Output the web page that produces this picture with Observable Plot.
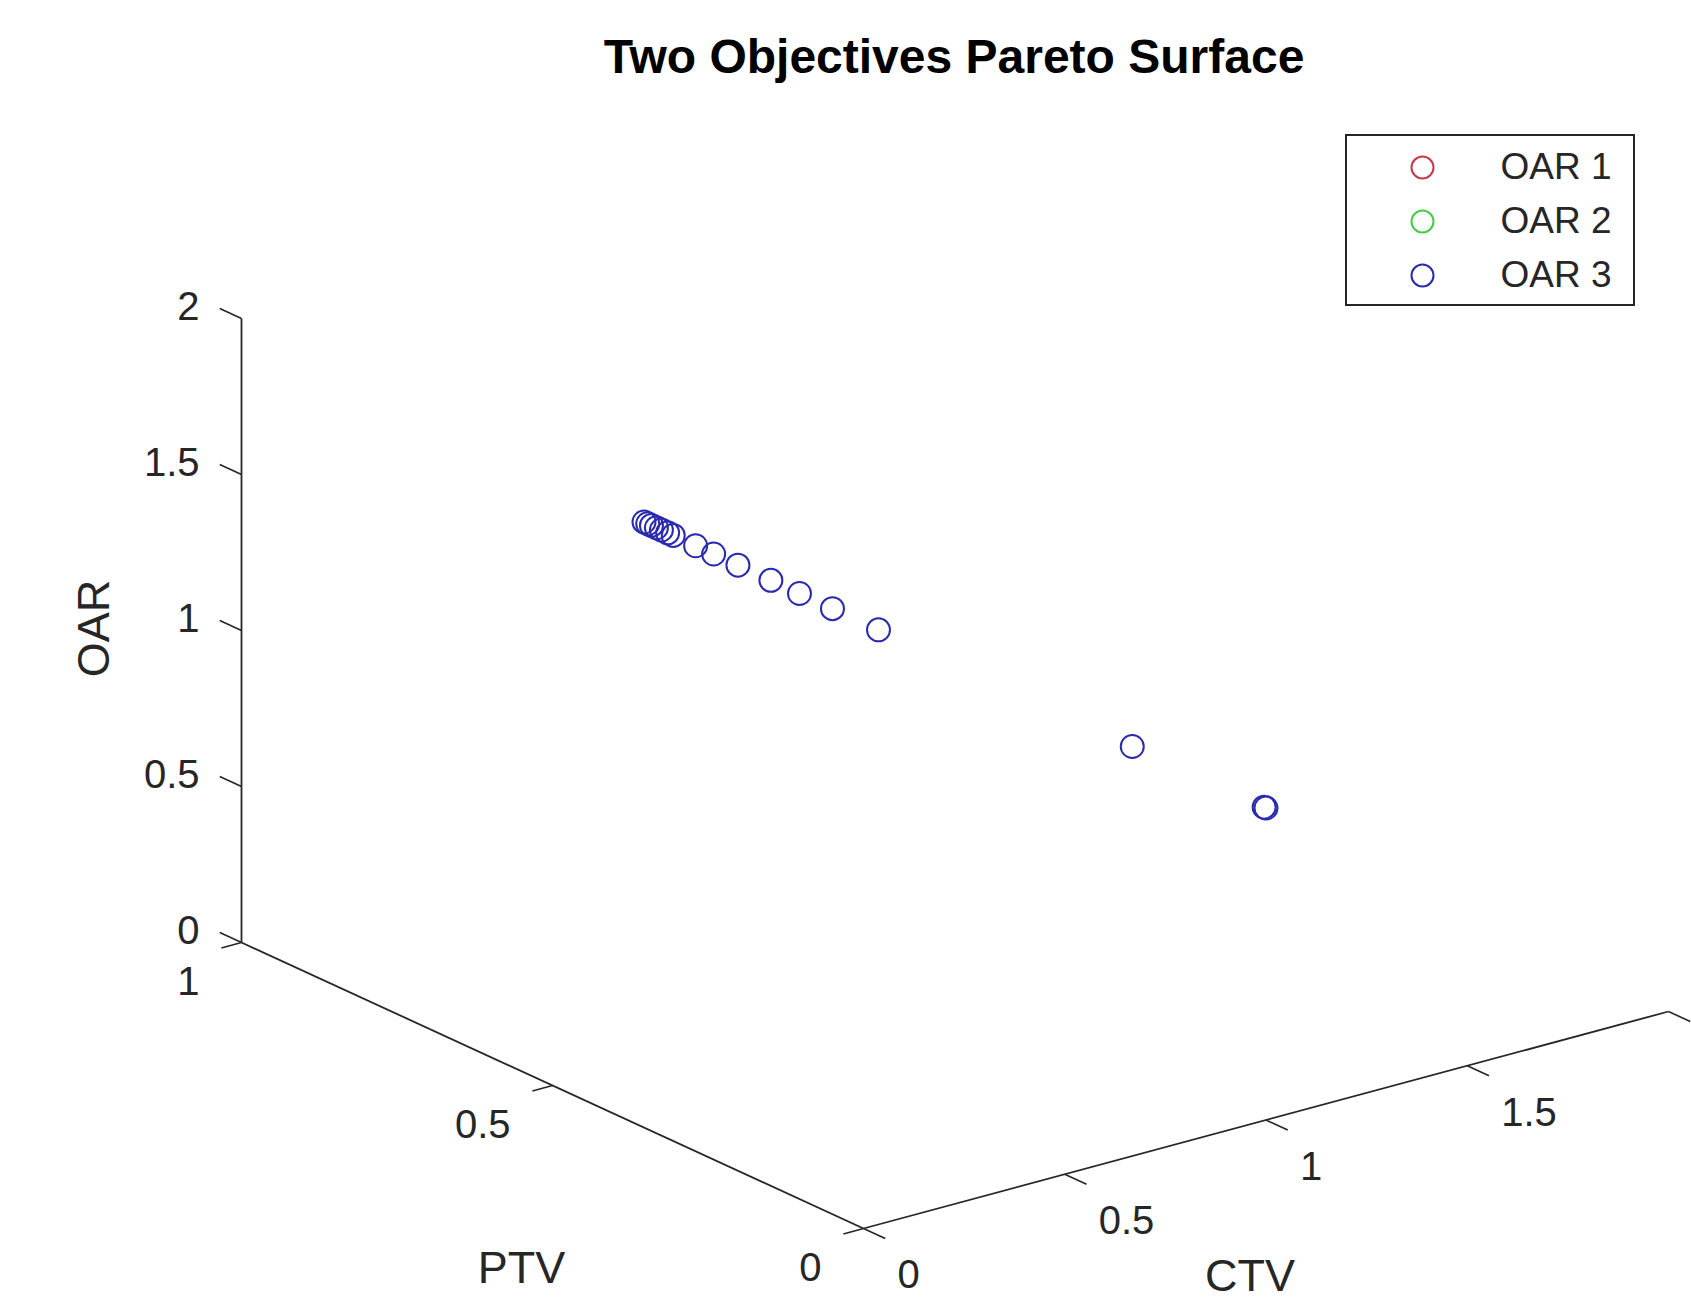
<!DOCTYPE html>
<html><head><meta charset="utf-8">
<script src="https://cdn.jsdelivr.net/npm/d3@7"></script>
<script src="https://cdn.jsdelivr.net/npm/@observablehq/plot@0.6"></script>
<style>
body{margin:0;background:#fff;width:1691px;height:1300px;overflow:hidden;font-family:"Liberation Sans",Arial,sans-serif}
#title{height:100px;position:relative}
#title span{position:absolute;left:954px;top:56px;transform:translate(-50%,-50%);font-weight:bold;font-size:48px;color:#000;white-space:nowrap}
#chart svg{display:block}
</style></head><body>
<div id="title"><span>Two Objectives Pareto Surface</span></div>
<div id="chart"></div>
<script>
// ---------- data ----------
const seriesNames = ["OAR 1", "OAR 2", "OAR 3"];
const seriesColors = ["#c43a4a", "#44cc44", "#2a2ab0"];
// OAR 1 and OAR 2 show no visible points in the figure
const oar1PTV = [], oar1CTV = [], oar1OAR = [];
const oar2PTV = [], oar2CTV = [], oar2OAR = [];
// OAR 3 points (PTV, CTV, OAR)
const oar3PTV = [0.000, 0.003, 0.215, 0.623, 0.697, 0.750, 0.796, 0.849, 0.888, 0.917, 0.953, 0.962, 0.972, 0.980, 0.988, 0.994, 1.000];
const oar3CTV = [1.00, 1.00, 1.00, 1.00, 1.00, 1.00, 1.00, 1.00, 1.00, 1.00, 1.00, 1.00, 1.00, 1.00, 1.00, 1.00, 1.00];
const oar3OAR = [1.00, 1.00, 1.00, 1.00, 1.00, 1.00, 1.00, 1.00, 1.00, 1.00, 1.00, 1.00, 1.00, 1.00, 1.00, 1.00, 1.00];
const ptvTicks = [0, 0.5, 1];
const ctvTicks = [0, 0.5, 1, 1.5, 2];
const oarTicks = [0, 0.5, 1, 1.5, 2];
const axisNames = ["PTV", "CTV", "OAR"];

// ---------- view (3D orthographic projection onto page pixels) ----------
const TOP = 100, W = 1691, H = 1200;
const ORIGIN = [863, 1228];
const VP = [-622, -286];   // one unit of PTV
const VC = [402.5, -108.5]; // one unit of CTV
const VO = [0, -312];      // one unit of OAR
const proj = (p, c, o) => [ORIGIN[0] + p * VP[0] + c * VC[0] + o * VO[0],
                           ORIGIN[1] + p * VP[1] + c * VC[1] + o * VO[1]];
const INK = "#262626";

const series = [
  {name: seriesNames[0], P: oar1PTV, C: oar1CTV, O: oar1OAR},
  {name: seriesNames[1], P: oar2PTV, C: oar2CTV, O: oar2OAR},
  {name: seriesNames[2], P: oar3PTV, C: oar3CTV, O: oar3OAR}
];
const points = series.flatMap((s, si) => s.P.map((p, i) => {
  const [x, y] = proj(p, s.C[i], s.O[i]);
  return {x, y, series: s.name, color: seriesColors[si]};
}));

const axes = [
  {a: proj(0, 0, 0), b: proj(1, 0, 0)},
  {a: proj(0, 0, 0), b: proj(0, 2, 0)},
  {a: proj(1, 0, 0), b: proj(1, 0, 2)}
];
const tickLen = 0.035;
const ticks = [
  ...ptvTicks.map(v => ({a: proj(v, 0, 0), b: proj(v, -0.05, 0), label: String(v), kind: "ptv"})),
  ...ctvTicks.map(v => ({a: proj(0, v, 0), b: proj(-tickLen, v, 0), label: String(v), kind: "ctv"})),
  ...oarTicks.map(v => ({a: proj(1, 0, v), b: proj(1 + tickLen, 0, v), label: String(v), kind: "oar"}))
];
// labels whose position falls outside the figure are not drawn (as in the original)
const inFigure = (d, dx) => d.a[0] + dx < W - 20;

// legend layout (page px)
const LEG = {x1: 1346, x2: 1634, y1: 135, y2: 305, mx: 1422, tx: 1500, y0: 167, dy: 54};
const legendRows = seriesNames.map((n, i) => ({name: n, color: seriesColors[i], y: LEG.y0 + i * LEG.dy}));

const plot = Plot.plot({
  width: W, height: H,
  margin: 0,
  x: {domain: [0, W], range: [0, W], axis: null},
  y: {domain: [TOP, TOP + H], range: [0, H], axis: null},
  style: {fontFamily: "'Liberation Sans', Arial, sans-serif", color: INK, background: "#fff"},
  marks: [
    Plot.link(axes, {x1: d => d.a[0], y1: d => d.a[1], x2: d => d.b[0], y2: d => d.b[1], stroke: INK, strokeWidth: 1.8}),
    Plot.link(ticks, {x1: d => d.a[0], y1: d => d.a[1], x2: d => d.b[0], y2: d => d.b[1], stroke: INK, strokeWidth: 1.6}),
    Plot.text(ticks.filter(d => d.kind === "oar"), {x: d => d.a[0] - 42, y: d => d.a[1] - 11, text: "label", textAnchor: "end", fontSize: 40, fill: INK}),
    Plot.text(ticks.filter(d => d.kind === "ptv"), {x: d => d.a[0] - 42, y: d => d.a[1] + 40, text: "label", textAnchor: "end", fontSize: 40, fill: INK}),
    Plot.text(ticks.filter(d => d.kind === "ctv" && inFigure(d, 34)), {x: d => d.a[0] + 34, y: d => d.a[1] + 47, text: "label", textAnchor: "start", fontSize: 40, fill: INK}),
    // axis titles
    Plot.text([axisNames[0]], {x: () => proj(0.5, 0, 0)[0] - 31, y: () => proj(0.5, 0, 0)[1] + 183, text: d => d, fontSize: 45, fill: INK}),
    Plot.text([axisNames[1]], {x: () => proj(0, 0.96, 0)[0], y: () => proj(0, 0.96, 0)[1] + 152, text: d => d, fontSize: 45, fill: INK}),
    Plot.text([axisNames[2]], {x: () => 94, y: () => proj(1, 0, 1)[1] - 2, text: d => d, fontSize: 45, rotate: -90, fill: INK}),
    // data
    Plot.dot(points, {x: "x", y: "y", r: 11.5, stroke: "color", fill: "none", strokeWidth: 2}),
    // legend
    Plot.rect([LEG], {x1: "x1", x2: "x2", y1: "y1", y2: "y2", fill: "#fff", stroke: INK, strokeWidth: 2}),
    Plot.dot(legendRows, {x: () => LEG.mx, y: "y", r: 11, stroke: "color", fill: "none", strokeWidth: 2}),
    Plot.text(legendRows, {x: () => LEG.tx, y: "y", text: "name", textAnchor: "start", fontSize: 37, fill: INK})
  ]
});
document.getElementById("chart").appendChild(plot);
</script>
</body></html>
